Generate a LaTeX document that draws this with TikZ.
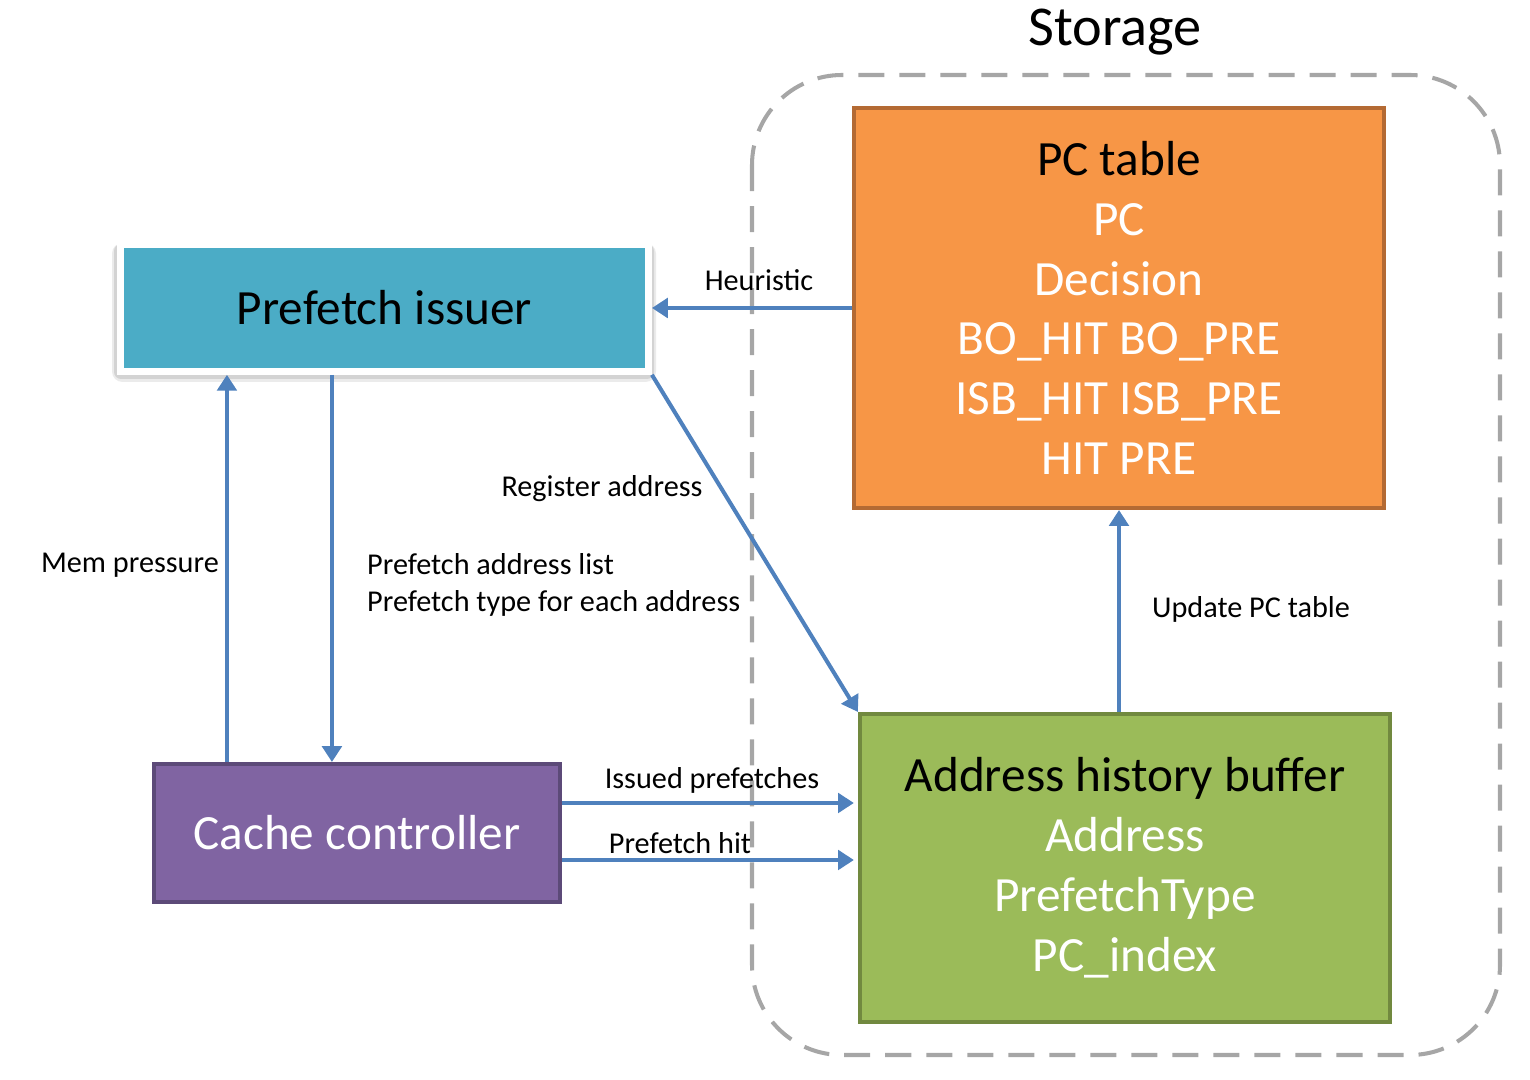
\documentclass[tikz,border=0pt]{standalone}
\usepackage{fontspec}
\setmainfont{Carlito}
\usepackage{tikz}
\usetikzlibrary{calc}
\usetikzlibrary{arrows.meta}
\definecolor{issuerteal}{HTML}{4BACC6}
\definecolor{tableorange}{HTML}{F79646}
\definecolor{tableedge}{HTML}{B46A33}
\definecolor{bufgreen}{HTML}{9BBB59}
\definecolor{bufedge}{HTML}{71893F}
\definecolor{ctrlpurple}{HTML}{8064A2}
\definecolor{ctrledge}{HTML}{5C4A78}
\definecolor{flowblue}{HTML}{4F81BD}
\definecolor{storegray}{HTML}{A6A6A6}
\tikzset{
    unit/.style={draw, line width=1.1pt, inner sep=0pt, align=center, font=\fontsize{14}{17}\selectfont},
    flow/.style={draw=flowblue, line width=1.15pt, -{Triangle[length=4.5pt,width=5.5pt]}},
    lbl/.style={font=\fontsize{8.6}{10.4}\selectfont, inner sep=1pt}
}

\begin{document}
\begin{tikzpicture}[x=0.01cm,y=-0.01cm]
\useasboundingbox (0,0) rectangle (1530,1080);
% storage area
\draw[storegray, line width=1.15pt, dash pattern=on 0.26cm off 0.15cm, rounded corners=0.9cm] (752,75) rectangle (1500,1055);
\node at (1115,32)[font=\fontsize{16}{19}\selectfont] {Storage};
% shadow under the issuer frame
\fill[black, opacity=0.08, rounded corners=3pt] (112,243) rectangle (656,382);
\fill[black, opacity=0.1, rounded corners=2pt] (114,244) rectangle (654,379);
% units
\node (issuer) at (384.5,308)[unit, fill=issuerteal, draw=white, line width=2pt, minimum width=5.275cm, minimum height=1.265cm] {Prefetch issuer};
\node (pctable) at (1119,308)[unit, fill=tableorange, draw=tableedge, minimum width=5.3cm, minimum height=4cm, text=white]
    {\textcolor{black}{PC table}\\PC\\Decision\\BO\_HIT BO\_PRE\\ISB\_HIT ISB\_PRE\\HIT PRE};
\node (ahb) at (1125,868)[unit, fill=bufgreen, draw=bufedge, minimum width=5.3cm, minimum height=3.08cm, text=white,
    font=\fontsize{14}{17.1}\selectfont]
    {\textcolor{black}{Address history buffer}\\Address\\PrefetchType\\PC\_index};
\node (cache) at (357,833)[unit, fill=ctrlpurple, draw=ctrledge, minimum width=4.06cm, minimum height=1.38cm, text=white] {Cache controller};
% connectors
\coordinate (mem) at ($(cache.north west)+(75,0)$);
\coordinate (plist) at ($(cache.north west)+(180,0)$);
\draw[flow] (pctable.west) -- (issuer.east);
\node at (759,280)[lbl] {Heuristic};
\draw[flow] (mem) -- (mem |- issuer.south);
\node at (223,565)[lbl, anchor=east] {Mem pressure};
\draw[flow] (plist |- issuer.south) -- (plist);
\node at (363,585)[lbl, anchor=west, align=left] {Prefetch address list\\Prefetch type for each address};
\draw[flow] (issuer.south east) -- (ahb.north west);
\node at (602,489)[lbl] {Register address};
\draw[flow] (ahb.north -| pctable.south) -- (pctable.south);
\node at (1251,609)[lbl] {Update PC table};
\foreach \dy/\p/\lx/\ly/\labeltext in {-30/issued/712/780/{Issued prefetches}, 27/hit/680/843/{Prefetch hit}}{
    \coordinate (\p) at ($(cache.east)+(0,\dy)$);
    \draw[flow] (\p) -- ($(\p -| ahb.west)+(-4,0)$);
    \node at (\lx,\ly)[lbl] {\labeltext};
}
\end{tikzpicture}
\end{document}
